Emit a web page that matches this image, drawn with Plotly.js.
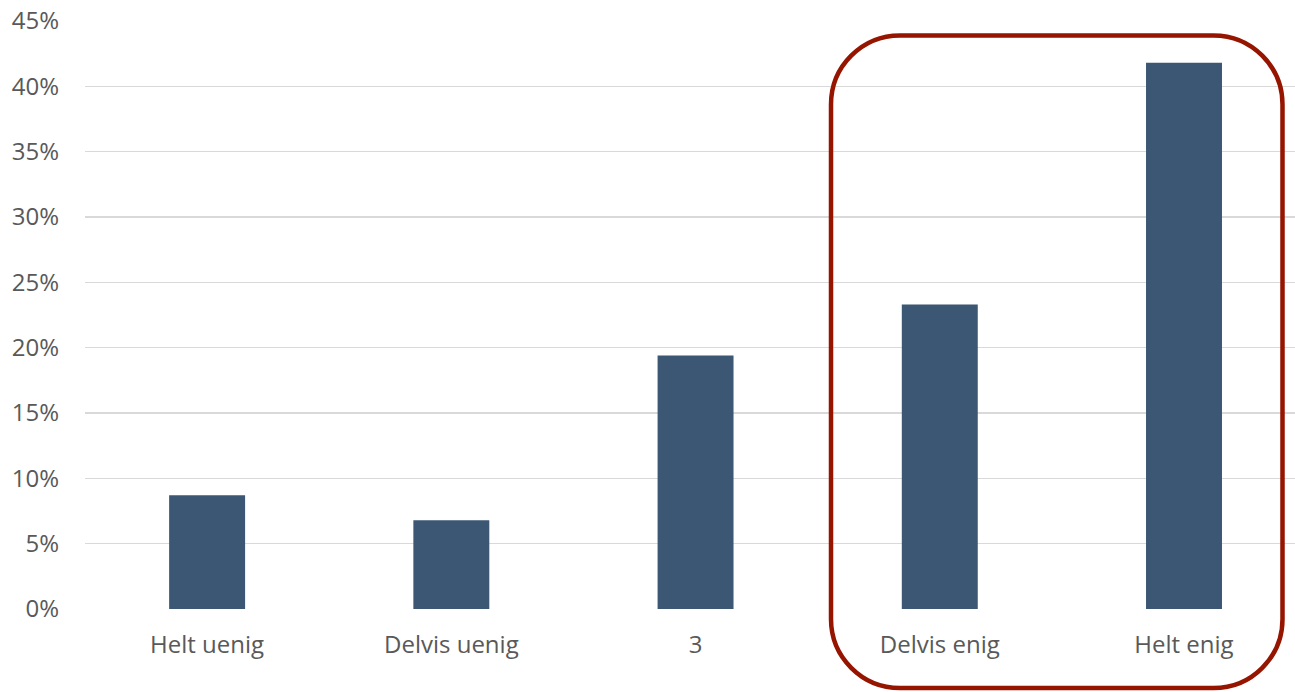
<!DOCTYPE html>
<html>
<head>
<meta charset="utf-8">
<script src="https://cdn.plot.ly/plotly-3.0.1.min.js"></script>
<style>html,body{margin:0;padding:0;background:#fff;}#chart{width:1295px;height:692px;}</style>
</head>
<body>
<div id="chart"></div>
<script>
const categories = ["Helt uenig", "Delvis uenig", "3", "Delvis enig", "Helt enig"];
const values = [8.7, 6.8, 19.4, 23.3, 41.8];
const tickVals = [0, 5, 10, 15, 20, 25, 30, 35, 40, 45];
const tickText = ["0%", "5%", "10%", "15%", "20%", "25%", "30%", "35%", "40%", "45%"];

const W = 1295, H = 692;
const mL = 85, mR = 0, mT = 21, mB = 83;
const pw = W - mL - mR, ph = H - mT - mB;
function px2x(p){ return (p - mL) / pw; }
function py2y(p){ return (H - mB - p) / ph; }

// rounded rectangle (paper coords), pixel box
const L = 831, R = 1282.5, T = 35.5, B = 688, rad = 69;
const k = 0.5523 * rad;
function P(x, y){ return px2x(x).toFixed(5) + ',' + py2y(y).toFixed(5); }
const path = 'M ' + P(L + rad, T) +
  ' L ' + P(R - rad, T) +
  ' C ' + P(R - rad + k, T) + ' ' + P(R, T + rad - k) + ' ' + P(R, T + rad) +
  ' L ' + P(R, B - rad) +
  ' C ' + P(R, B - rad + k) + ' ' + P(R - rad + k, B) + ' ' + P(R - rad, B) +
  ' L ' + P(L + rad, B) +
  ' C ' + P(L + rad - k, B) + ' ' + P(L, B - rad + k) + ' ' + P(L, B - rad) +
  ' L ' + P(L, T + rad) +
  ' C ' + P(L, T + rad - k) + ' ' + P(L + rad - k, T) + ' ' + P(L + rad, T) + ' Z';

const trace = {
  type: 'bar',
  x: categories,
  y: values,
  width: 0.311,
  marker: {color: '#3B5773'},
  hoverinfo: 'none'
};

const fnt = {family: '"Open Sans", sans-serif', size: 24, color: '#595959'};

const layout = {
  width: W, height: H,
  margin: {l: mL, r: mR, t: mT, b: mB},
  paper_bgcolor: '#fff', plot_bgcolor: '#fff',
  showlegend: false,
  font: fnt,
  xaxis: {
    type: 'category',
    range: [-0.5, 4.4545],
    showgrid: false, zeroline: false, showline: false,
    ticks: '', tickfont: fnt,
    ticklabelstandoff: 19
  },
  yaxis: {
    range: [0, 45],
    tickvals: tickVals, ticktext: tickText,
    showgrid: true, gridcolor: '#D9D9D9', gridwidth: 1.3,
    zeroline: false, showline: false, ticks: '',
    tickfont: fnt,
    ticklabelstandoff: 25
  },
  shapes: [{
    type: 'path', xref: 'paper', yref: 'paper',
    path: path,
    line: {color: '#951500', width: 4.5},
    fillcolor: 'rgba(0,0,0,0)'
  }]
};

Plotly.newPlot('chart', [trace], layout, {displayModeBar: false, staticPlot: true});
</script>
</body>
</html>
